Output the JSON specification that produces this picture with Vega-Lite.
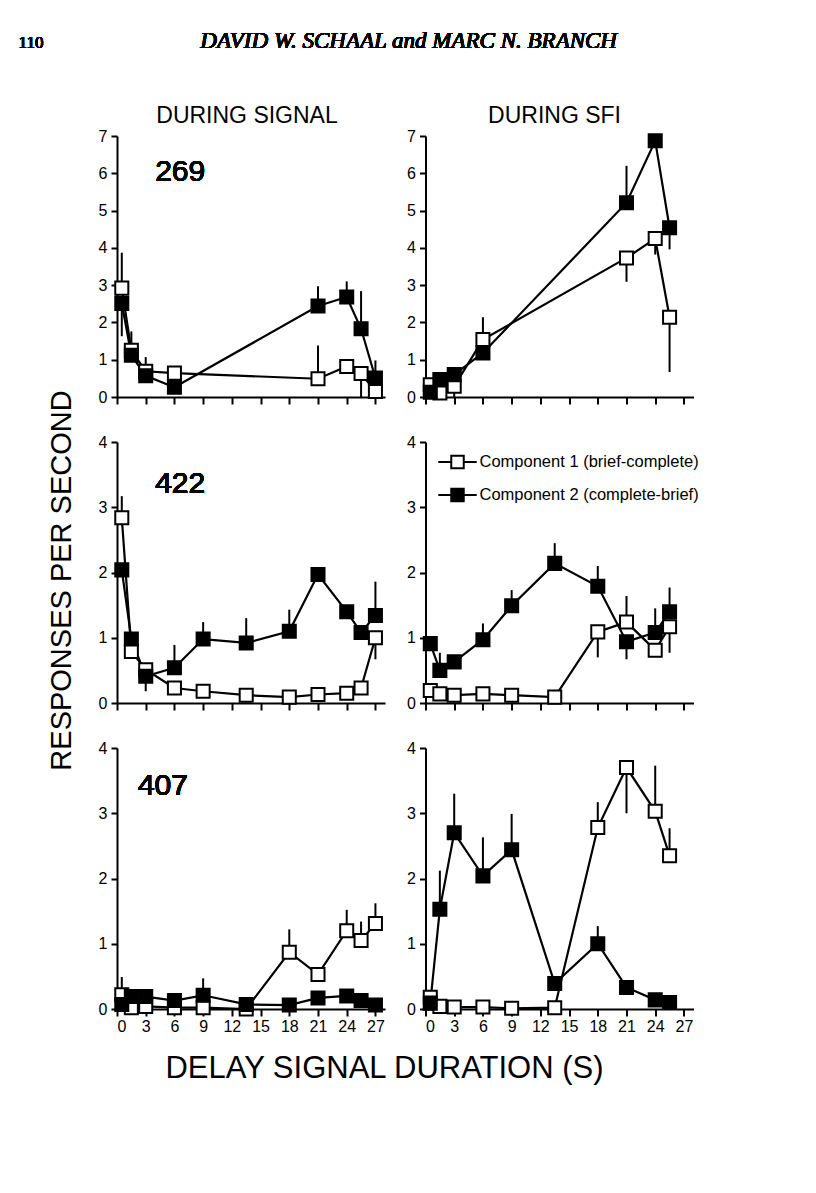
{
  "$schema": "https://vega.github.io/schema/vega-lite/v6.json",
  "padding": {"left": 18, "top": 29, "right": 10, "bottom": 10},
  "datasets": {
    "d": [
      {"s": "269", "p": "signal", "c": "Component 1 (brief-complete)", "d": 0.5, "r": 2.92, "e": 3.87},
      {"s": "269", "p": "signal", "c": "Component 1 (brief-complete)", "d": 1.5, "r": 1.25, "e": 1.76},
      {"s": "269", "p": "signal", "c": "Component 1 (brief-complete)", "d": 3, "r": 0.69, "e": 1.07},
      {"s": "269", "p": "signal", "c": "Component 1 (brief-complete)", "d": 6, "r": 0.64},
      {"s": "269", "p": "signal", "c": "Component 1 (brief-complete)", "d": 21, "r": 0.49, "e": 1.38},
      {"s": "269", "p": "signal", "c": "Component 1 (brief-complete)", "d": 24, "r": 0.82},
      {"s": "269", "p": "signal", "c": "Component 1 (brief-complete)", "d": 25.5, "r": 0.63, "e": 0.0},
      {"s": "269", "p": "signal", "c": "Component 1 (brief-complete)", "d": 27, "r": 0.15},
      {"s": "269", "p": "signal", "c": "Component 2 (complete-brief)", "d": 0.5, "r": 2.51, "e": 1.63},
      {"s": "269", "p": "signal", "c": "Component 2 (complete-brief)", "d": 1.5, "r": 1.12},
      {"s": "269", "p": "signal", "c": "Component 2 (complete-brief)", "d": 3, "r": 0.57},
      {"s": "269", "p": "signal", "c": "Component 2 (complete-brief)", "d": 6, "r": 0.26},
      {"s": "269", "p": "signal", "c": "Component 2 (complete-brief)", "d": 21, "r": 2.44, "e": 2.97},
      {"s": "269", "p": "signal", "c": "Component 2 (complete-brief)", "d": 24, "r": 2.68, "e": 3.1},
      {"s": "269", "p": "signal", "c": "Component 2 (complete-brief)", "d": 25.5, "r": 1.83, "e": 2.84},
      {"s": "269", "p": "signal", "c": "Component 2 (complete-brief)", "d": 27, "r": 0.51, "e": 0.98},

      {"s": "269", "p": "sfi", "c": "Component 1 (brief-complete)", "d": 0.5, "r": 0.33},
      {"s": "269", "p": "sfi", "c": "Component 1 (brief-complete)", "d": 1.5, "r": 0.11},
      {"s": "269", "p": "sfi", "c": "Component 1 (brief-complete)", "d": 3, "r": 0.29, "e": 0.0},
      {"s": "269", "p": "sfi", "c": "Component 1 (brief-complete)", "d": 6, "r": 1.54, "e": 2.14},
      {"s": "269", "p": "sfi", "c": "Component 1 (brief-complete)", "d": 21, "r": 3.73, "e": 3.09},
      {"s": "269", "p": "sfi", "c": "Component 1 (brief-complete)", "d": 24, "r": 4.25, "e": 3.82},
      {"s": "269", "p": "sfi", "c": "Component 1 (brief-complete)", "d": 25.5, "r": 2.14, "e": 0.67},
      {"s": "269", "p": "sfi", "c": "Component 2 (complete-brief)", "d": 0.5, "r": 0.13},
      {"s": "269", "p": "sfi", "c": "Component 2 (complete-brief)", "d": 1.5, "r": 0.47},
      {"s": "269", "p": "sfi", "c": "Component 2 (complete-brief)", "d": 3, "r": 0.6},
      {"s": "269", "p": "sfi", "c": "Component 2 (complete-brief)", "d": 6, "r": 1.18},
      {"s": "269", "p": "sfi", "c": "Component 2 (complete-brief)", "d": 21, "r": 5.21, "e": 6.2},
      {"s": "269", "p": "sfi", "c": "Component 2 (complete-brief)", "d": 24, "r": 6.87},
      {"s": "269", "p": "sfi", "c": "Component 2 (complete-brief)", "d": 25.5, "r": 4.54, "e": 3.96},

      {"s": "422", "p": "signal", "c": "Component 1 (brief-complete)", "d": 0.5, "r": 2.84, "e": 3.17},
      {"s": "422", "p": "signal", "c": "Component 1 (brief-complete)", "d": 1.5, "r": 0.79},
      {"s": "422", "p": "signal", "c": "Component 1 (brief-complete)", "d": 3, "r": 0.51},
      {"s": "422", "p": "signal", "c": "Component 1 (brief-complete)", "d": 6, "r": 0.23},
      {"s": "422", "p": "signal", "c": "Component 1 (brief-complete)", "d": 9, "r": 0.18},
      {"s": "422", "p": "signal", "c": "Component 1 (brief-complete)", "d": 13.5, "r": 0.12},
      {"s": "422", "p": "signal", "c": "Component 1 (brief-complete)", "d": 18, "r": 0.09},
      {"s": "422", "p": "signal", "c": "Component 1 (brief-complete)", "d": 21, "r": 0.13},
      {"s": "422", "p": "signal", "c": "Component 1 (brief-complete)", "d": 24, "r": 0.15},
      {"s": "422", "p": "signal", "c": "Component 1 (brief-complete)", "d": 25.5, "r": 0.23},
      {"s": "422", "p": "signal", "c": "Component 1 (brief-complete)", "d": 27, "r": 1.0, "e": 0.67},
      {"s": "422", "p": "signal", "c": "Component 2 (complete-brief)", "d": 0.5, "r": 2.04},
      {"s": "422", "p": "signal", "c": "Component 2 (complete-brief)", "d": 1.5, "r": 0.98},
      {"s": "422", "p": "signal", "c": "Component 2 (complete-brief)", "d": 3, "r": 0.41, "e": 0.18},
      {"s": "422", "p": "signal", "c": "Component 2 (complete-brief)", "d": 6, "r": 0.54, "e": 0.89},
      {"s": "422", "p": "signal", "c": "Component 2 (complete-brief)", "d": 9, "r": 0.98, "e": 1.24},
      {"s": "422", "p": "signal", "c": "Component 2 (complete-brief)", "d": 13.5, "r": 0.92, "e": 1.3},
      {"s": "422", "p": "signal", "c": "Component 2 (complete-brief)", "d": 18, "r": 1.1, "e": 1.43},
      {"s": "422", "p": "signal", "c": "Component 2 (complete-brief)", "d": 21, "r": 1.97},
      {"s": "422", "p": "signal", "c": "Component 2 (complete-brief)", "d": 24, "r": 1.4},
      {"s": "422", "p": "signal", "c": "Component 2 (complete-brief)", "d": 25.5, "r": 1.08},
      {"s": "422", "p": "signal", "c": "Component 2 (complete-brief)", "d": 27, "r": 1.34, "e": 1.86},

      {"s": "422", "p": "sfi", "c": "Component 1 (brief-complete)", "d": 0.5, "r": 0.19},
      {"s": "422", "p": "sfi", "c": "Component 1 (brief-complete)", "d": 1.5, "r": 0.14},
      {"s": "422", "p": "sfi", "c": "Component 1 (brief-complete)", "d": 3, "r": 0.12},
      {"s": "422", "p": "sfi", "c": "Component 1 (brief-complete)", "d": 6, "r": 0.14},
      {"s": "422", "p": "sfi", "c": "Component 1 (brief-complete)", "d": 9, "r": 0.12},
      {"s": "422", "p": "sfi", "c": "Component 1 (brief-complete)", "d": 13.5, "r": 0.09},
      {"s": "422", "p": "sfi", "c": "Component 1 (brief-complete)", "d": 18, "r": 1.09, "e": 0.7},
      {"s": "422", "p": "sfi", "c": "Component 1 (brief-complete)", "d": 21, "r": 1.24, "e": 1.64},
      {"s": "422", "p": "sfi", "c": "Component 1 (brief-complete)", "d": 24, "r": 0.81},
      {"s": "422", "p": "sfi", "c": "Component 1 (brief-complete)", "d": 25.5, "r": 1.17, "e": 0.77},
      {"s": "422", "p": "sfi", "c": "Component 2 (complete-brief)", "d": 0.5, "r": 0.91},
      {"s": "422", "p": "sfi", "c": "Component 2 (complete-brief)", "d": 1.5, "r": 0.5, "e": 0.77},
      {"s": "422", "p": "sfi", "c": "Component 2 (complete-brief)", "d": 3, "r": 0.63},
      {"s": "422", "p": "sfi", "c": "Component 2 (complete-brief)", "d": 6, "r": 0.97, "e": 1.22},
      {"s": "422", "p": "sfi", "c": "Component 2 (complete-brief)", "d": 9, "r": 1.49, "e": 1.73},
      {"s": "422", "p": "sfi", "c": "Component 2 (complete-brief)", "d": 13.5, "r": 2.14, "e": 2.45},
      {"s": "422", "p": "sfi", "c": "Component 2 (complete-brief)", "d": 18, "r": 1.79, "e": 2.1},
      {"s": "422", "p": "sfi", "c": "Component 2 (complete-brief)", "d": 21, "r": 0.94, "e": 0.67},
      {"s": "422", "p": "sfi", "c": "Component 2 (complete-brief)", "d": 24, "r": 1.08, "e": 1.45},
      {"s": "422", "p": "sfi", "c": "Component 2 (complete-brief)", "d": 25.5, "r": 1.4, "e": 1.77},

      {"s": "407", "p": "signal", "c": "Component 1 (brief-complete)", "d": 0.5, "r": 0.22, "e": 0.49},
      {"s": "407", "p": "signal", "c": "Component 1 (brief-complete)", "d": 1.5, "r": 0.02},
      {"s": "407", "p": "signal", "c": "Component 1 (brief-complete)", "d": 3, "r": 0.04},
      {"s": "407", "p": "signal", "c": "Component 1 (brief-complete)", "d": 6, "r": 0.02},
      {"s": "407", "p": "signal", "c": "Component 1 (brief-complete)", "d": 9, "r": 0.02},
      {"s": "407", "p": "signal", "c": "Component 1 (brief-complete)", "d": 13.5, "r": 0.0},
      {"s": "407", "p": "signal", "c": "Component 1 (brief-complete)", "d": 18, "r": 0.87, "e": 1.22},
      {"s": "407", "p": "signal", "c": "Component 1 (brief-complete)", "d": 21, "r": 0.53},
      {"s": "407", "p": "signal", "c": "Component 1 (brief-complete)", "d": 24, "r": 1.2, "e": 1.52},
      {"s": "407", "p": "signal", "c": "Component 1 (brief-complete)", "d": 25.5, "r": 1.05, "e": 1.34},
      {"s": "407", "p": "signal", "c": "Component 1 (brief-complete)", "d": 27, "r": 1.31, "e": 1.62},
      {"s": "407", "p": "signal", "c": "Component 2 (complete-brief)", "d": 0.5, "r": 0.07},
      {"s": "407", "p": "signal", "c": "Component 2 (complete-brief)", "d": 1.5, "r": 0.19},
      {"s": "407", "p": "signal", "c": "Component 2 (complete-brief)", "d": 3, "r": 0.19},
      {"s": "407", "p": "signal", "c": "Component 2 (complete-brief)", "d": 6, "r": 0.13},
      {"s": "407", "p": "signal", "c": "Component 2 (complete-brief)", "d": 9, "r": 0.21, "e": 0.47},
      {"s": "407", "p": "signal", "c": "Component 2 (complete-brief)", "d": 13.5, "r": 0.07},
      {"s": "407", "p": "signal", "c": "Component 2 (complete-brief)", "d": 18, "r": 0.06},
      {"s": "407", "p": "signal", "c": "Component 2 (complete-brief)", "d": 21, "r": 0.17},
      {"s": "407", "p": "signal", "c": "Component 2 (complete-brief)", "d": 24, "r": 0.2},
      {"s": "407", "p": "signal", "c": "Component 2 (complete-brief)", "d": 25.5, "r": 0.13},
      {"s": "407", "p": "signal", "c": "Component 2 (complete-brief)", "d": 27, "r": 0.06},

      {"s": "407", "p": "sfi", "c": "Component 1 (brief-complete)", "d": 0.5, "r": 0.18},
      {"s": "407", "p": "sfi", "c": "Component 1 (brief-complete)", "d": 1.5, "r": 0.04},
      {"s": "407", "p": "sfi", "c": "Component 1 (brief-complete)", "d": 3, "r": 0.03},
      {"s": "407", "p": "sfi", "c": "Component 1 (brief-complete)", "d": 6, "r": 0.03},
      {"s": "407", "p": "sfi", "c": "Component 1 (brief-complete)", "d": 9, "r": 0.01},
      {"s": "407", "p": "sfi", "c": "Component 1 (brief-complete)", "d": 13.5, "r": 0.02},
      {"s": "407", "p": "sfi", "c": "Component 1 (brief-complete)", "d": 18, "r": 2.78, "e": 3.17},
      {"s": "407", "p": "sfi", "c": "Component 1 (brief-complete)", "d": 21, "r": 3.7, "e": 3.0},
      {"s": "407", "p": "sfi", "c": "Component 1 (brief-complete)", "d": 24, "r": 3.03, "e": 3.73},
      {"s": "407", "p": "sfi", "c": "Component 1 (brief-complete)", "d": 25.5, "r": 2.35, "e": 2.77},
      {"s": "407", "p": "sfi", "c": "Component 2 (complete-brief)", "d": 0.5, "r": 0.09},
      {"s": "407", "p": "sfi", "c": "Component 2 (complete-brief)", "d": 1.5, "r": 1.53, "e": 2.12},
      {"s": "407", "p": "sfi", "c": "Component 2 (complete-brief)", "d": 3, "r": 2.7, "e": 3.3},
      {"s": "407", "p": "sfi", "c": "Component 2 (complete-brief)", "d": 6, "r": 2.04, "e": 2.63},
      {"s": "407", "p": "sfi", "c": "Component 2 (complete-brief)", "d": 9, "r": 2.44, "e": 2.99},
      {"s": "407", "p": "sfi", "c": "Component 2 (complete-brief)", "d": 13.5, "r": 0.39},
      {"s": "407", "p": "sfi", "c": "Component 2 (complete-brief)", "d": 18, "r": 1.0, "e": 1.27},
      {"s": "407", "p": "sfi", "c": "Component 2 (complete-brief)", "d": 21, "r": 0.33},
      {"s": "407", "p": "sfi", "c": "Component 2 (complete-brief)", "d": 24, "r": 0.14},
      {"s": "407", "p": "sfi", "c": "Component 2 (complete-brief)", "d": 25.5, "r": 0.1}
    ]
  },
  "columns": 2,
  "spacing": {"row": 45, "column": 40.5},
  "bounds": "flush",
  "resolve": {"scale": {"fill": "independent"}, "legend": {"fill": "independent"}},
  "concat": [
    {
      "width": 268, "height": 261,
      "title": {"text": "DURING SIGNAL", "fontSize": 23, "font": "Liberation Sans", "fontWeight": "normal", "color": "black", "anchor": "middle", "offset": 0, "dx": -4},
      "data": {"name": "d"},
      "transform": [{"filter": "datum.s == '269' && datum.p == 'signal'"}],
      "encoding": {
        "x": {"field": "d", "type": "quantitative", "scale": {"domain": [0, 28], "nice": false}, "axis": {"values": [0,3,6,9,12,15,18,21,24,27], "labels": false, "title": null}},
        "y": {"field": "r", "type": "quantitative", "scale": {"domain": [0, 7], "nice": false}, "axis": {"values": [0,1,2,3,4,5,6,7], "format": "d", "title": null}}
      },
      "layer": [
        {"transform": [{"filter": "isValid(datum.e)"}], "mark": {"type": "rule", "color": "black", "strokeWidth": 2}, "encoding": {"y2": {"field": "e"}}},
        {"mark": {"type": "line", "color": "black", "strokeWidth": 2.2}, "encoding": {"detail": {"field": "c"}}},
        {"mark": {"type": "point", "shape": "square", "filled": true, "stroke": "black", "strokeWidth": 2, "size": 170, "opacity": 1},
         "encoding": {"fill": {"field": "c", "type": "nominal", "scale": {"domain": ["Component 1 (brief-complete)", "Component 2 (complete-brief)"], "range": ["white", "black"]}, "legend": null}}},
        {"mark": {"type": "text", "fontSize": 30, "font": "Liberation Sans", "align": "center", "baseline": "middle", "color": "black"},
         "encoding": {"x": {"datum": 6.6}, "y": {"datum": 6.03}, "text": {"value": "269"}}}
      ]
    },
    {
      "width": 268, "height": 261,
      "title": {"text": "DURING SFI", "fontSize": 23, "font": "Liberation Sans", "fontWeight": "normal", "color": "black", "anchor": "middle", "offset": 0, "dx": -5},
      "data": {"name": "d"},
      "transform": [{"filter": "datum.s == '269' && datum.p == 'sfi'"}],
      "encoding": {
        "x": {"field": "d", "type": "quantitative", "scale": {"domain": [0, 28], "nice": false}, "axis": {"values": [0,3,6,9,12,15,18,21,24,27], "labels": false, "title": null}},
        "y": {"field": "r", "type": "quantitative", "scale": {"domain": [0, 7], "nice": false}, "axis": {"values": [0,1,2,3,4,5,6,7], "format": "d", "title": null}}
      },
      "layer": [
        {"transform": [{"filter": "isValid(datum.e)"}], "mark": {"type": "rule", "color": "black", "strokeWidth": 2}, "encoding": {"y2": {"field": "e"}}},
        {"mark": {"type": "line", "color": "black", "strokeWidth": 2.2}, "encoding": {"detail": {"field": "c"}}},
        {"mark": {"type": "point", "shape": "square", "filled": true, "stroke": "black", "strokeWidth": 2, "size": 170, "opacity": 1},
         "encoding": {"fill": {"field": "c", "type": "nominal", "scale": {"domain": ["Component 1 (brief-complete)", "Component 2 (complete-brief)"], "range": ["white", "black"]}, "legend": null}}}
      ]
    },
    {
      "width": 268, "height": 261,
      "data": {"name": "d"},
      "transform": [{"filter": "datum.s == '422' && datum.p == 'signal'"}],
      "encoding": {
        "x": {"field": "d", "type": "quantitative", "scale": {"domain": [0, 28], "nice": false}, "axis": {"values": [0,3,6,9,12,15,18,21,24,27], "labels": false, "title": null}},
        "y": {"field": "r", "type": "quantitative", "scale": {"domain": [0, 4], "nice": false},
              "axis": {"values": [0,1,2,3,4], "format": "d", "title": "RESPONSES PER SECOND", "titleFont": "Liberation Sans", "titleFontSize": 29, "titleFontWeight": "normal", "titleColor": "black", "titleAngle": -90, "titleX": -47, "titleY": 138, "titleAlign": "center", "titleBaseline": "alphabetic"}}
      },
      "layer": [
        {"transform": [{"filter": "isValid(datum.e)"}], "mark": {"type": "rule", "color": "black", "strokeWidth": 2}, "encoding": {"y2": {"field": "e"}}},
        {"mark": {"type": "line", "color": "black", "strokeWidth": 2.2}, "encoding": {"detail": {"field": "c"}}},
        {"mark": {"type": "point", "shape": "square", "filled": true, "stroke": "black", "strokeWidth": 2, "size": 170, "opacity": 1},
         "encoding": {"fill": {"field": "c", "type": "nominal", "scale": {"domain": ["Component 1 (brief-complete)", "Component 2 (complete-brief)"], "range": ["white", "black"]}, "legend": null}}},
        {"mark": {"type": "text", "fontSize": 30, "font": "Liberation Sans", "align": "center", "baseline": "middle", "color": "black"},
         "encoding": {"x": {"datum": 6.6}, "y": {"datum": 3.35}, "text": {"value": "422"}}},
        {"mark": {"type": "text", "fontSize": 17, "font": "Liberation Serif", "fontWeight": "normal", "align": "left", "baseline": "alphabetic", "color": "black"},
         "encoding": {"x": {"datum": -10.29}, "y": {"datum": 10.04}, "text": {"value": "110"}}},
        {"mark": {"type": "text", "fontSize": 23, "font": "Liberation Serif", "fontStyle": "italic", "fontWeight": "normal", "align": "center", "baseline": "alphabetic", "color": "black"},
         "encoding": {"x": {"datum": 30.47}, "y": {"datum": 10.04}, "text": {"value": "DAVID W. SCHAAL and MARC N. BRANCH"}}}
      ]
    },
    {
      "width": 268, "height": 261,
      "data": {"name": "d"},
      "transform": [{"filter": "datum.s == '422' && datum.p == 'sfi'"}],
      "encoding": {
        "x": {"field": "d", "type": "quantitative", "scale": {"domain": [0, 28], "nice": false}, "axis": {"values": [0,3,6,9,12,15,18,21,24,27], "labels": false, "title": null}},
        "y": {"field": "r", "type": "quantitative", "scale": {"domain": [0, 4], "nice": false}, "axis": {"values": [0,1,2,3,4], "format": "d", "title": null}}
      },
      "layer": [
        {"transform": [{"filter": "isValid(datum.e)"}], "mark": {"type": "rule", "color": "black", "strokeWidth": 2}, "encoding": {"y2": {"field": "e"}}},
        {"mark": {"type": "line", "color": "black", "strokeWidth": 2.2}, "encoding": {"detail": {"field": "c"}}},
        {"mark": {"type": "point", "shape": "square", "filled": true, "stroke": "black", "strokeWidth": 2, "size": 170, "opacity": 1},
         "encoding": {"fill": {"field": "c", "type": "nominal", "scale": {"domain": ["Component 1 (brief-complete)", "Component 2 (complete-brief)"], "range": ["white", "black"]},
                               "legend": {"orient": "none", "legendX": 19, "legendY": 7, "title": null, "padding": 0, "symbolType": "M-1.6,0H-0.52M0.52,0H1.6M-0.52,-0.52H0.52V0.52H-0.52Z", "symbolSize": 576, "symbolStrokeColor": "black", "symbolStrokeWidth": 2, "labelFont": "Liberation Sans", "labelFontSize": 16.5, "labelColor": "black", "labelOffset": 9, "rowPadding": 9, "labelLimit": 400}}}}
      ]
    },
    {
      "width": 268, "height": 261,
      "data": {"name": "d"},
      "transform": [{"filter": "datum.s == '407' && datum.p == 'signal'"}],
      "encoding": {
        "x": {"field": "d", "type": "quantitative", "scale": {"domain": [0, 28], "nice": false},
              "axis": {"values": [0,3,6,9,12,15,18,21,24,27], "format": "d", "title": "DELAY SIGNAL DURATION (S)", "titleFont": "Liberation Sans", "titleFontSize": 31, "titleFontWeight": "normal", "titleColor": "black", "titleX": 267, "titleY": 68, "titleAlign": "center", "titleBaseline": "alphabetic"}},
        "y": {"field": "r", "type": "quantitative", "scale": {"domain": [0, 4], "nice": false}, "axis": {"values": [0,1,2,3,4], "format": "d", "title": null}}
      },
      "layer": [
        {"transform": [{"filter": "isValid(datum.e)"}], "mark": {"type": "rule", "color": "black", "strokeWidth": 2}, "encoding": {"y2": {"field": "e"}}},
        {"mark": {"type": "line", "color": "black", "strokeWidth": 2.2}, "encoding": {"detail": {"field": "c"}}},
        {"mark": {"type": "point", "shape": "square", "filled": true, "stroke": "black", "strokeWidth": 2, "size": 170, "opacity": 1},
         "encoding": {"fill": {"field": "c", "type": "nominal", "scale": {"domain": ["Component 1 (brief-complete)", "Component 2 (complete-brief)"], "range": ["white", "black"]}, "legend": null}}},
        {"mark": {"type": "text", "fontSize": 30, "font": "Liberation Sans", "align": "center", "baseline": "middle", "color": "black"},
         "encoding": {"x": {"datum": 4.8}, "y": {"datum": 3.42}, "text": {"value": "407"}}}
      ]
    },
    {
      "width": 268, "height": 261,
      "data": {"name": "d"},
      "transform": [{"filter": "datum.s == '407' && datum.p == 'sfi'"}],
      "encoding": {
        "x": {"field": "d", "type": "quantitative", "scale": {"domain": [0, 28], "nice": false}, "axis": {"values": [0,3,6,9,12,15,18,21,24,27], "format": "d", "title": null}},
        "y": {"field": "r", "type": "quantitative", "scale": {"domain": [0, 4], "nice": false}, "axis": {"values": [0,1,2,3,4], "format": "d", "title": null}}
      },
      "layer": [
        {"transform": [{"filter": "isValid(datum.e)"}], "mark": {"type": "rule", "color": "black", "strokeWidth": 2}, "encoding": {"y2": {"field": "e"}}},
        {"mark": {"type": "line", "color": "black", "strokeWidth": 2.2}, "encoding": {"detail": {"field": "c"}}},
        {"mark": {"type": "point", "shape": "square", "filled": true, "stroke": "black", "strokeWidth": 2, "size": 170, "opacity": 1},
         "encoding": {"fill": {"field": "c", "type": "nominal", "scale": {"domain": ["Component 1 (brief-complete)", "Component 2 (complete-brief)"], "range": ["white", "black"]}, "legend": null}}}
      ]
    }
  ],
  "config": {
    "view": {"stroke": null},
    "font": "Liberation Sans",
    "axis": {"domainColor": "black", "domainWidth": 2, "tickColor": "black", "tickWidth": 2, "labelColor": "black", "labelFont": "Liberation Sans", "labelFontSize": 16, "grid": false, "labelOverlap": false},
    "axisX": {"tickSize": 7, "labelPadding": 2},
    "axisY": {"tickSize": 6, "labelPadding": 4}
  }
}
